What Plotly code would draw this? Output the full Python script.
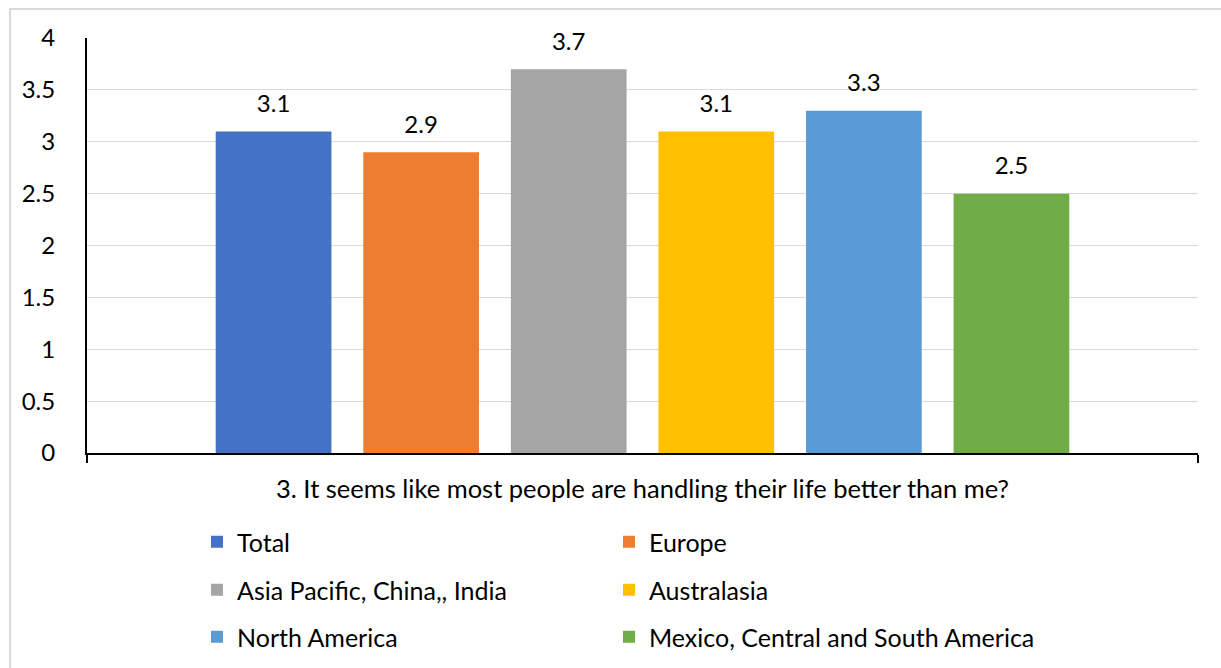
import plotly.graph_objects as go

category = ["3. It seems like most people are handling their life better than me?"]
series_names = ["Total", "Europe", "Asia Pacific, China,, India", "Australasia",
                "North America", "Mexico, Central and South America"]
series_values = [3.1, 2.9, 3.7, 3.1, 3.3, 2.5]
series_colors = ["#4472C4", "#ED7D31", "#A5A5A5", "#FFC000", "#5B9BD5", "#70AD47"]
y_ticks = [0, 0.5, 1, 1.5, 2, 2.5, 3, 3.5, 4]
y_ticklabels = ["0", "0.5", "1", "1.5", "2", "2.5", "3", "3.5", "4"]

FONT = "Lato"
legend_ids = ["legend", "legend2", "legend3", "legend4", "legend5", "legend6"]

fig = go.Figure()
for i, (name, val, col) in enumerate(zip(series_names, series_values, series_colors)):
    fig.add_trace(go.Bar(
        x=category, y=[val], name=name, marker=dict(color=col, line=dict(width=0)),
        offsetgroup=str(i), legend=legend_ids[i], hoverinfo="skip",
    ))
for i, val in enumerate(series_values):
    fig.add_trace(go.Scatter(
        x=category, y=[val], mode="markers+text", text=[f"{val:g}"],
        textposition="top center", offsetgroup=str(i), showlegend=False,
        marker=dict(size=20, color="rgba(0,0,0,0)"),
        textfont=dict(family=FONT, size=24, color="#000000"), hoverinfo="skip",
        cliponaxis=False,
    ))

W, H = 1221, 668
L, R, T, B = 87, 23, 38, 215
pw, ph = W - L - R, H - T - B

def px2x(px):
    return (px - L) / pw

def px2y(py):
    return (H - B - py) / ph

leg_common = dict(orientation="v", xanchor="left", yanchor="middle",
                  font=dict(family=FONT, size=25, color="#000000"),
                  bgcolor="rgba(0,0,0,0)", itemclick=False, itemdoubleclick=False)

col_x = [197, 609]
row_y = [542, 590, 637]
legends = {}
for i, lid in enumerate(legend_ids):
    legends[lid] = dict(x=px2x(col_x[i % 2]), y=px2y(row_y[i // 2]), **leg_common)

fig.update_layout(
    width=W, height=H,
    margin=dict(l=L, r=R, t=T, b=B, autoexpand=False),
    paper_bgcolor="#ffffff", plot_bgcolor="#ffffff",
    barmode="group", bargap=0.203, bargroupgap=0.216,
    scattermode="group", scattergap=0.203,
    font=dict(family=FONT, size=24, color="#000000"),
    xaxis=dict(
        type="category", showline=True, linecolor="#000000", linewidth=2,
        ticks="outside", tickson="boundaries", ticklen=8, tickwidth=2, tickcolor="#000000",
        tickfont=dict(family=FONT, size=25.5, color="#000000"),
        ticklabelstandoff=12, showgrid=False, fixedrange=True,
    ),
    yaxis=dict(
        range=[0, 4], tickvals=y_ticks, ticktext=y_ticklabels,
        showgrid=True, gridcolor="#d9d9d9", gridwidth=1,
        showline=True, linecolor="#000000", linewidth=2,
        ticks="", tickfont=dict(family=FONT, size=24, color="#000000"),
        ticklabelstandoff=25, zeroline=False, fixedrange=True,
    ),
    shapes=[dict(type="rect", xref="paper", yref="paper",
                 x0=px2x(10), x1=px2x(1240), y0=px2y(700), y1=px2y(9),
                 line=dict(color="#d9d9d9", width=2), fillcolor="rgba(0,0,0,0)",
                 layer="below")],
    **legends,
)

fig.write_html("out.html", config={"displayModeBar": False})
